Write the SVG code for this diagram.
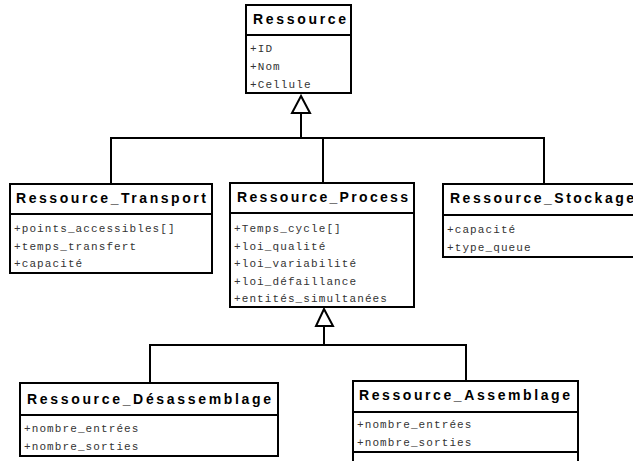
<svg xmlns="http://www.w3.org/2000/svg" width="633" height="461" viewBox="0 0 633 461">
<style>
.box{fill:#fff;stroke:#000;stroke-width:2}
.div{stroke:#000;stroke-width:2;fill:none}
.hd{font-family:"Liberation Sans",Arial,sans-serif;font-weight:bold;font-size:14px;fill:#000}
.at{font-family:"Liberation Mono","Courier New",monospace;font-size:11px;letter-spacing:1.1px;fill:#333}
.ln{stroke:#000;stroke-width:2;fill:none}
.tri{fill:#fff;stroke:#000;stroke-width:2;stroke-linejoin:miter}
</style>
<rect width="633" height="461" fill="#fff"/>
<g id="connectors">
<polyline class="ln" points="301,113 301,138"/>
<polyline class="ln" points="111,184 111,138 544,138 544,184"/>
<polyline class="ln" points="323,138 323,183"/>
<polygon class="tri" points="301,96 292,113 310,113"/>
<polyline class="ln" points="324,326 324,345"/>
<polyline class="ln" points="150,383 150,345 466,345 466,381"/>
<polygon class="tri" points="324,309 316,326 333,326"/>
</g>
<g id="Ressource">
<rect class="box" x="246" y="5" width="105" height="88"/>
<line class="div" x1="246" y1="35" x2="351" y2="35"/>
<text class="hd" x="253" y="24" textLength="93" lengthAdjust="spacing">Ressource</text>
<text class="at" x="250" y="52">+ID</text>
<text class="at" x="250" y="70">+Nom</text>
<text class="at" x="250" y="88">+Cellule</text>
</g>
<g id="Ressource_Transport">
<rect class="box" x="10" y="184" width="202" height="89"/>
<line class="div" x1="10" y1="214" x2="212" y2="214"/>
<text class="hd" x="16" y="203" textLength="190" lengthAdjust="spacing">Ressource_Transport</text>
<text class="at" x="14" y="232">+points_accessibles[]</text>
<text class="at" x="14" y="249.5">+temps_transfert</text>
<text class="at" x="14" y="267">+capacité</text>
</g>
<g id="Ressource_Process">
<rect class="box" x="230" y="183" width="184" height="124"/>
<line class="div" x1="230" y1="213" x2="414" y2="213"/>
<text class="hd" x="237" y="202" textLength="171" lengthAdjust="spacing">Ressource_Process</text>
<text class="at" x="234" y="232">+Temps_cycle[]</text>
<text class="at" x="234" y="249.5">+loi_qualité</text>
<text class="at" x="234" y="267">+loi_variabilité</text>
<text class="at" x="234" y="284.5">+loi_défaillance</text>
<text class="at" x="234" y="302">+entités_simultanées</text>
</g>
<g id="Ressource_Stockage">
<rect class="box" x="443" y="184" width="200" height="73"/>
<line class="div" x1="443" y1="215" x2="643" y2="215"/>
<text class="hd" x="450" y="203" textLength="184" lengthAdjust="spacing">Ressource_Stockage</text>
<text class="at" x="447" y="233">+capacité</text>
<text class="at" x="447" y="250.5">+type_queue</text>
</g>
<g id="Ressource_Desassemblage">
<rect class="box" x="20" y="383" width="258" height="73"/>
<line class="div" x1="20" y1="415" x2="278" y2="415"/>
<text class="hd" x="27" y="404" textLength="244" lengthAdjust="spacing">Ressource_Désassemblage</text>
<text class="at" x="24" y="432">+nombre_entrées</text>
<text class="at" x="24" y="449.5">+nombre_sorties</text>
</g>
<g id="Ressource_Assemblage">
<rect class="box" x="353" y="381" width="225" height="100"/>
<line class="div" x1="353" y1="412" x2="578" y2="412"/>
<line class="div" x1="353" y1="452" x2="578" y2="452"/>
<text class="hd" x="359" y="400" textLength="211" lengthAdjust="spacing">Ressource_Assemblage</text>
<text class="at" x="357" y="428">+nombre_entrées</text>
<text class="at" x="357" y="445.5">+nombre_sorties</text>
</g>
</svg>
